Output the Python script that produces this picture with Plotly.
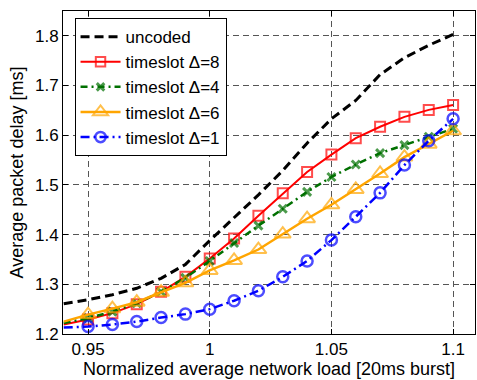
import plotly.graph_objects as go

load = [0.94, 0.95, 0.96, 0.97, 0.98, 0.99, 1.00, 1.01, 1.02, 1.03, 1.04,
        1.05, 1.06, 1.07, 1.08, 1.09, 1.10]

uncoded = [1.261, 1.269, 1.279, 1.292, 1.312, 1.340, 1.388, 1.434, 1.480, 1.529,
           1.584, 1.633, 1.670, 1.722, 1.756, 1.781, 1.803]
ts8 = [1.219, 1.229, 1.242, 1.260, 1.285, 1.315, 1.352, 1.392, 1.438, 1.483,
       1.526, 1.561, 1.594, 1.617, 1.637, 1.651, 1.661]
ts4 = [1.222, 1.232, 1.245, 1.262, 1.285, 1.313, 1.347, 1.383, 1.418, 1.452,
       1.486, 1.516, 1.541, 1.564, 1.580, 1.597, 1.613]
ts6 = [1.225, 1.239, 1.251, 1.264, 1.284, 1.303, 1.328, 1.348, 1.370, 1.401,
       1.432, 1.460, 1.491, 1.523, 1.556, 1.582, 1.609]
ts1 = [1.213, 1.215, 1.219, 1.225, 1.233, 1.240, 1.250, 1.267, 1.287, 1.315,
       1.347, 1.389, 1.436, 1.484, 1.540, 1.589, 1.633]

names = ["uncoded", "timeslot Δ=8", "timeslot Δ=4", "timeslot Δ=6", "timeslot Δ=1"]
x_ticks = [0.95, 1.0, 1.05, 1.1]
x_ticklabels = ["0.95", "1", "1.05", "1.1"]
y_ticks = [1.2, 1.3, 1.4, 1.5, 1.6, 1.7, 1.8]

FONT = "Liberation Sans, Arial, Helvetica, sans-serif"


def sizes(s):
    # hide the marker of the first (edge) point
    return [0] + [s] * (len(load) - 1)


fig = go.Figure()

fig.add_trace(go.Scatter(
    x=load, y=uncoded, name=names[0], mode="lines",
    line=dict(color="black", width=3, dash="9px,5px"),
))
fig.add_trace(go.Scatter(
    x=load, y=ts8, name=names[1], mode="lines+markers",
    line=dict(color="#ff0000", width=2),
    marker=dict(symbol="square-open", size=sizes(10), color="#ff0000",
                line=dict(width=2, color="#ff0000")),
))
fig.add_trace(go.Scatter(
    x=load, y=ts4, name=names[2], mode="lines+markers",
    line=dict(color="#007000", width=2.5, dash="7px,4px,2px,4px"),
    marker=dict(symbol="x-thin-open", size=sizes(8), color="#007000",
                line=dict(width=3, color="#007000")),
))
fig.add_trace(go.Scatter(
    x=load, y=ts6, name=names[3], mode="lines+markers",
    line=dict(color="#ffa500", width=2.5),
    marker=dict(symbol="triangle-up-open", size=sizes(14), color="#ffa500",
                line=dict(width=2, color="#ffa500")),
))
fig.add_trace(go.Scatter(
    x=load, y=ts1, name=names[4], mode="lines+markers",
    line=dict(color="#0000ff", width=2.5, dash="9px,4px,2px,4px"),
    marker=dict(symbol="circle-open", size=sizes(11), color="#0000ff",
                line=dict(width=2.5, color="#0000ff")),
))

axis_common = dict(
    showline=True, linecolor="black", linewidth=1, mirror="ticks",
    ticks="inside", ticklen=5, tickcolor="black", tickwidth=1,
    showgrid=True, gridcolor="#555555", gridwidth=1, griddash="6px,4px",
    zeroline=False, tickfont=dict(family=FONT, size=17, color="black"),
)

fig.update_layout(
    width=477, height=380,
    margin=dict(l=63, r=2, t=11, b=46),
    paper_bgcolor="white", plot_bgcolor="white",
    font=dict(family=FONT, size=17, color="black"),
    xaxis=dict(range=[0.9397, 1.109], tickvals=x_ticks, ticktext=x_ticklabels,
               title=dict(text="Normalized average network load [20ms burst]",
                          font=dict(family=FONT, size=18), standoff=2),
               **axis_common),
    yaxis=dict(range=[1.2, 1.85], tickvals=y_ticks, tickformat=".1f",
               title=dict(text="Average packet delay [ms]",
                          font=dict(family=FONT, size=18), standoff=6),
               **axis_common),
    legend=dict(x=0.028, y=0.978, xanchor="left", yanchor="top",
                bgcolor="white", bordercolor="black", borderwidth=1,
                font=dict(family=FONT, size=17, color="black"),
                tracegroupgap=0, itemwidth=40),
    showlegend=True,
)

fig.write_html("out.html", config={"displayModeBar": False},
               post_script="document.body.style.margin='0';document.body.style.padding='0';")
